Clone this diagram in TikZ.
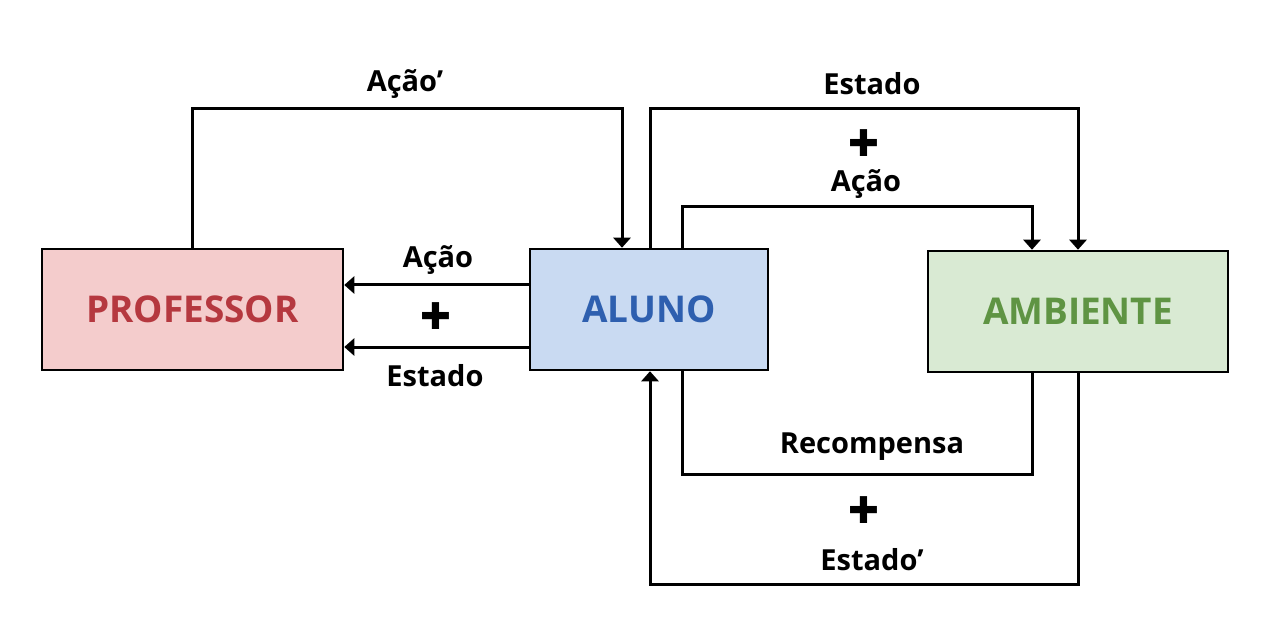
\documentclass[tikz,border=0pt]{standalone}
\usepackage{fontspec}
\setmainfont{Open Sans}
\newfontfamily\symfont{DejaVu Sans}
\usepackage{xcolor}
\usepackage{tikz}
\usetikzlibrary{calc}
\usetikzlibrary{arrows.meta}

\definecolor{profFill}{HTML}{F4CCCC}
\definecolor{profText}{HTML}{B5383F}
\definecolor{alunoFill}{HTML}{C9DAF2}
\definecolor{alunoText}{HTML}{2E5FAF}
\definecolor{ambFill}{HTML}{D9EAD3}
\definecolor{ambText}{HTML}{5F9443}

\tikzset{
  agentbox/.style={draw, line width=0.05cm, minimum height=2.42cm, inner sep=0pt,
    font=\fontsize{21}{24}\selectfont\bfseries},
  flow/.style={line width=0.06cm, -{Triangle[width=0.34cm,length=0.2cm]}},
  plainflow/.style={line width=0.06cm},
  flowlabel/.style={font=\fontsize{16.5}{19}\selectfont\bfseries},
  plussign/.style={font=\symfont\fontsize{21}{22}\selectfont}
}

\begin{document}
\begin{tikzpicture}
        \useasboundingbox (0,0) rectangle (25.6,12.52);

        % Agent boxes
        \node [agentbox, fill=profFill, text=profText, minimum width=6.02cm] (prof) at (3.85,6.33) {PROFESSOR};%
        \node [agentbox, fill=alunoFill, text=alunoText, minimum width=4.76cm] (aluno) at (12.98,6.33) {ALUNO};%
        \node [agentbox, fill=ambFill, text=ambText, minimum width=6.00cm] (amb) at (21.56,6.29) {AMBIENTE};%

        % Free corners of the connectors
        \coordinate (topA) at (3.85,10.34);
        \coordinate (topB) at (12.44,10.34);
        \coordinate (topC) at (13.00,10.34);
        \coordinate (topD) at (21.56,10.34);
        \coordinate (midA) at (13.64,8.38);
        \coordinate (midB) at (20.64,8.38);
        \coordinate (lowA) at (20.64,3.04);
        \coordinate (lowB) at (13.64,3.04);
        \coordinate (botA) at (21.56,0.84);
        \coordinate (botB) at (13.00,0.84);

        % Drawing line Acao' (professor to aluno)
        \draw [flow] (prof.north) -- (topA) -- (topB) -- (topB |- aluno.north);%

        % Drawing line Estado + Acao (aluno to ambiente)
        \draw [flow] (topC |- aluno.north) -- (topC) -- (topD) -- (amb.north);%
        \draw [flow] (midA |- aluno.north) -- (midA) -- (midB) -- (midB |- amb.north);%

        % Drawing line Acao + Estado (aluno to professor)
        \draw [flow] ($(aluno.west)+(0,0.49)$) -- ($(prof.east)+(0,0.49)$);%
        \draw [flow] ($(aluno.west)+(0,-0.75)$) -- ($(prof.east)+(0,-0.75)$);%

        % Drawing line Recompensa + Estado' (ambiente to aluno)
        \draw [plainflow] (lowA |- amb.south) -- (lowA) -- (lowB) -- (lowB |- aluno.south);%
        \draw [flow] (amb.south) -- (botA) -- (botB) -- (botB |- aluno.south);%

        % Labels
        \node [flowlabel] (lAcaoP) at (8.10,10.84) {Ação’};%
        \node [flowlabel] (lEstadoT) at (17.44,10.84) {Estado};%
        \node [plussign] (pTop) at (17.28,9.66) {✚};%
        \node [flowlabel] (lAcaoT) at (17.32,8.84) {Ação};%
        \node [flowlabel] (lAcaoL) at (8.76,7.32) {Ação};%
        \node [plussign] (pLeft) at (8.72,6.20) {✚};%
        \node [flowlabel] (lEstadoL) at (8.70,5.00) {Estado};%
        \node [flowlabel] (lRecomp) at (17.44,3.58) {Recompensa};%
        \node [plussign] (pLow) at (17.28,2.32) {✚};%
        \node [flowlabel] (lEstadoP) at (17.44,1.32) {Estado’};%
    \end{tikzpicture}
\end{document}
